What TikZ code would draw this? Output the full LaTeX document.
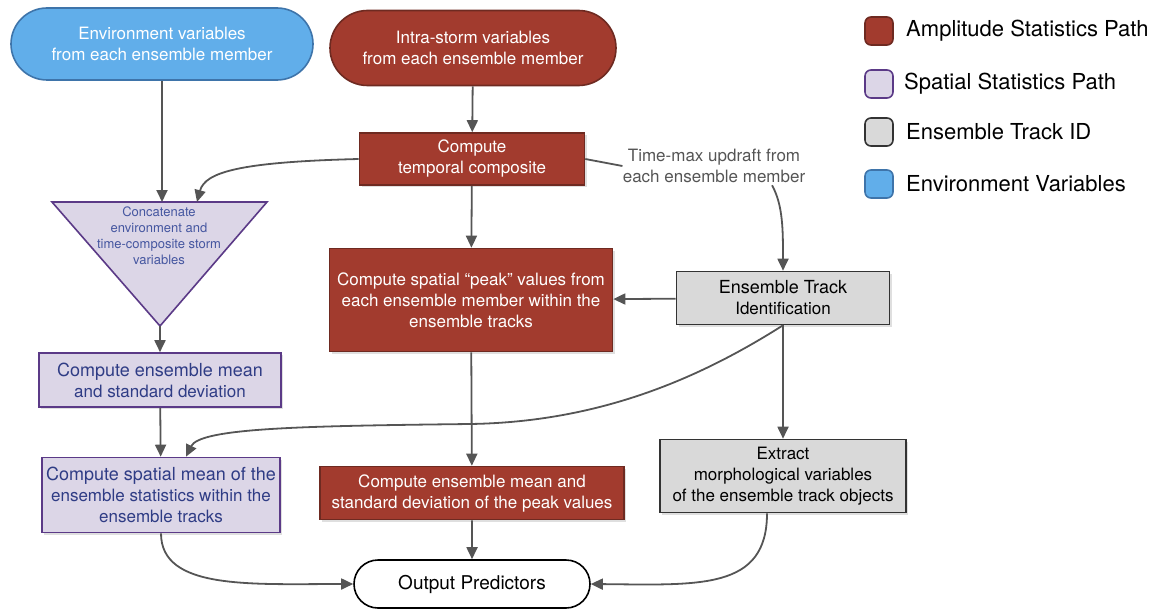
\documentclass[tikz,border=0pt]{standalone}
\usepackage{fontspec}
\setmainfont{TeX Gyre Heros}
\usepackage{tikz}
\usetikzlibrary{arrows.meta,positioning,shapes.misc,shadows}
\definecolor{amplred}{HTML}{A23B2E}
\definecolor{ampledge}{HTML}{6E2A21}
\definecolor{spatfill}{HTML}{DCD6E7}
\definecolor{spatedge}{HTML}{5B3A87}
\definecolor{spattext}{HTML}{2F3C85}
\definecolor{tritext}{HTML}{4556A0}
\definecolor{trackfill}{HTML}{D9D9D9}
\definecolor{trackedge}{HTML}{333333}
\definecolor{envblue}{HTML}{61AEEA}
\definecolor{envedge}{HTML}{3E74AA}
\definecolor{linegray}{HTML}{555555}
\tikzset{
  boxtext/.style={font=\fontsize{8.5}{10.5}\selectfont,align=center,inner sep=0pt},
  amplbox/.style={boxtext,draw=ampledge,fill=amplred,text=white,thick,
    drop shadow={opacity=0.25,shadow xshift=1pt,shadow yshift=-1pt}},
  spatbox/.style={boxtext,draw=spatedge,fill=spatfill,text=spattext,thick,
    drop shadow={opacity=0.25,shadow xshift=1pt,shadow yshift=-1pt}},
  trackbox/.style={boxtext,draw=trackedge,fill=trackfill,text=black,thick,
    drop shadow={opacity=0.25,shadow xshift=1pt,shadow yshift=-1pt}},
  pill/.style={rounded rectangle,boxtext,thick},
  legkey/.style={draw,thick,rounded corners=3pt,minimum size=14pt,inner sep=0pt},
  legtext/.style={font=\fontsize{11}{13}\selectfont,anchor=west,inner sep=0pt},
  flowarrow/.style={-{Triangle[length=6pt,width=5.5pt]},line width=0.9pt,draw=linegray},
  flowline/.style={line width=0.9pt,draw=linegray}
}
\begin{document}
\begin{tikzpicture}[x=0.5pt,y=-0.5pt]
\useasboundingbox (0,0) rectangle (1155,610);
% inputs
\node[pill,fill=envblue,draw=envedge,text=white,minimum width=151pt,minimum height=36pt]
  (env) at (162,44) {Environment variables\\from each ensemble member};
\node[pill,fill=amplred,draw=ampledge,text=white,minimum width=143pt,minimum height=37.5pt]
  (intra) at (473,48) {Intra-storm variables\\from each ensemble member};
% amplitude path
\node[amplbox,minimum width=112.5pt,minimum height=26pt] (temporal) at (472,159)
  {Compute\\temporal composite};
\node[boxtext,text=linegray] (timemax) at (714,166) {Time-max updraft from\\each ensemble member};
\node[amplbox,minimum width=141.5pt,minimum height=51.5pt] (peak) at (471,300)
  {Compute spatial ``peak'' values from\\each ensemble member within the\\ensemble tracks};
\node[amplbox,minimum width=152pt,minimum height=26.5pt] (epeak) at (472,493)
  {Compute ensemble mean and\\standard deviation of the peak values};
% track path
\node[trackbox,minimum width=106.5pt,minimum height=26.5pt] (track) at (783,298)
  {\fontsize{9}{11.5}\selectfont Ensemble Track\\Identification};
\node[trackbox,minimum width=123pt,minimum height=36.5pt] (extract) at (783,476)
  {Extract\\morphological variables\\of the ensemble track objects};
% spatial path
\draw[thick,draw=spatedge,fill=spatfill] (52,202) -- (267,202) -- (160,326) -- cycle;
\coordinate (concata) at (162,202);
\coordinate (concatb) at (197,202);
\coordinate (concatc) at (160,326);
\node[boxtext,text=tritext,font=\fontsize{6.5}{8}\selectfont] (concat) at (159,236)
  {Concatenate\\environment and\\time-composite storm\\variables};
\node[spatbox,minimum width=121pt,minimum height=27pt] (mean) at (160,380)
  {\fontsize{9}{11}\selectfont Compute ensemble mean\\and standard deviation};
\node[spatbox,minimum width=119pt,minimum height=37.5pt] (smean) at (161,495)
  {\fontsize{9}{11}\selectfont Compute spatial mean of the\\ensemble statistics within the\\ensemble tracks};
% output
\node[pill,draw=black,fill=white,minimum width=118pt,minimum height=24pt] (output) at (472,584)
  {\fontsize{9.5}{11}\selectfont Output Predictors};
% legend
\node[legkey,fill=amplred,draw=ampledge] (keyampl) at (879,31) {};
\node[legtext,right=6pt of keyampl] {Amplitude Statistics Path};
\node[legkey,fill=spatfill,draw=spatedge] (keyspat) at (879,84) {};
\node[legtext,right=5pt of keyspat] {Spatial Statistics Path};
\node[legkey,fill=trackfill,draw=trackedge] (keytrack) at (879,132) {};
\node[legtext,right=6pt of keytrack] {Ensemble Track ID};
\node[legkey,fill=envblue,draw=envedge] (keyenv) at (879,184) {};
\node[legtext,right=6pt of keyenv] {Environment Variables};
% connectors
\draw[flowarrow] (env.south -| concata) -- (concata);
\draw[flowarrow] (intra) -- (temporal);
\draw[flowarrow] (temporal.west) .. controls (240,162) and (205,172) .. (concatb);
\draw[flowline] (temporal.east) -- (timemax.west);
\draw[flowarrow] (timemax.south) ++(58,2) .. controls (783,205) and (783,230) .. (track.north);
\draw[flowarrow] (temporal) -- (peak);
\draw[flowarrow] (track) -- (peak);
\draw[flowarrow] (concatc) -- (mean);
\draw[flowarrow] (mean) -- (smean);
\draw[flowarrow] (track.south) .. controls (700,378) and (600,422) .. (470,424)
  .. controls (300,426) and (200,428) .. (smean.north -| 186,0);
\draw[flowarrow] (track) -- (extract);
\draw[flowarrow] (peak) -- (epeak);
\draw[flowarrow] (epeak) -- (output);
\draw[flowarrow] (smean.south) .. controls (161,590) and (250,584) .. (output.west);
\draw[flowarrow] (extract.south -| 767,0) .. controls (767,590) and (700,585) .. (output.east);
\end{tikzpicture}
\end{document}
